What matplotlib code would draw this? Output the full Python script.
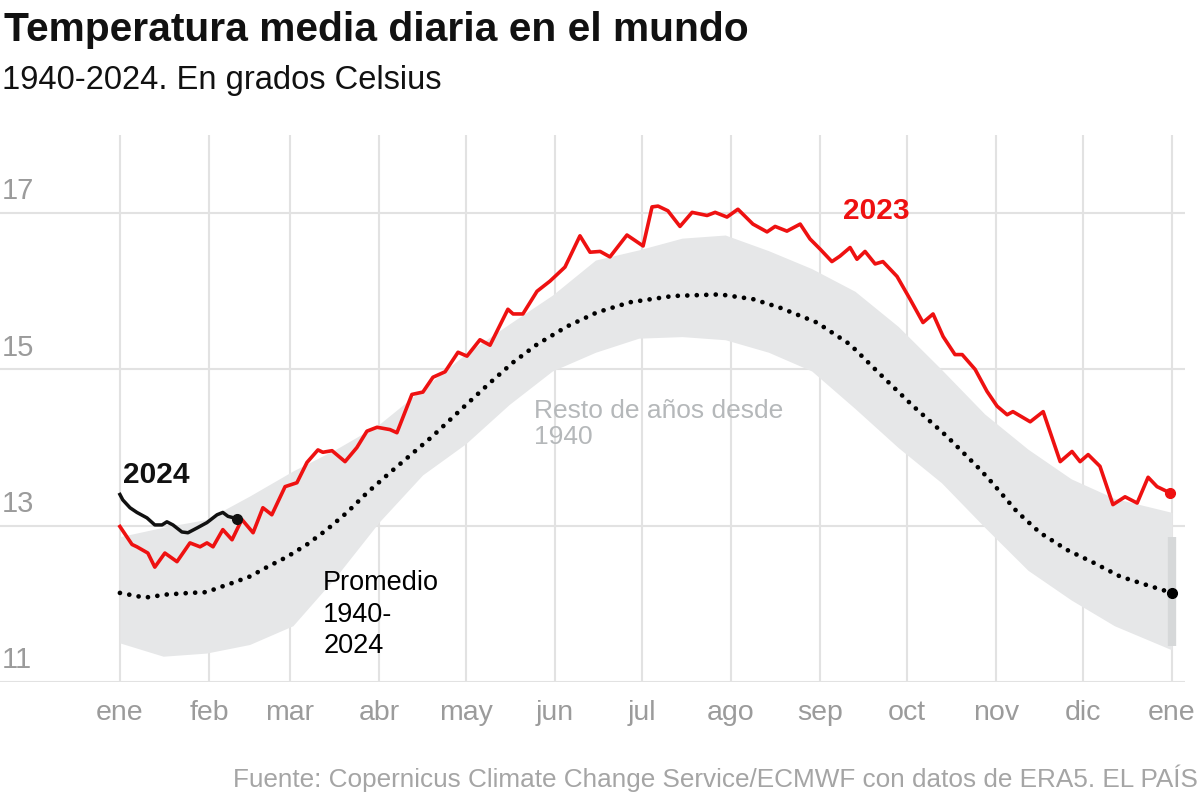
import matplotlib
matplotlib.use("Agg")
from matplotlib import pyplot as plt
from matplotlib import font_manager

# --- datos (día del año, temperatura en ºC) ---
days_2023 = [0, 4.2, 5.9, 9.7, 12.1, 15.6, 19.8, 24.3, 27.8, 30.2, 32.3, 35.7,
             38.9, 42.3, 46.2, 49.6, 52.7, 57.3, 61.4, 64.9, 68.7, 70.4, 73.6,
             78.1, 82.2, 85.7, 89.2, 93.7, 96.1, 101.3, 105.1, 108.6, 112.8,
             117.3, 120.4, 124.9, 128.4, 134.6, 136.4, 139.8, 144.7, 149.2,
             154.4, 159.6, 163.1, 166.6, 170.0, 175.9, 181.5, 184.6, 186.7,
             190.1, 194.3, 198.5, 203.7, 206.5, 210.6, 214.4, 219.6, 224.5,
             227.3, 231.4, 236.0, 239.4, 242.9, 247.0, 249.8, 253.3, 255.7,
             258.5, 262.0, 264.7, 269.6, 274.1, 278.6, 282.1, 285.6, 289.7,
             292.2, 296.7, 300.8, 304.3, 307.8, 309.8, 315.8, 320.3, 326.2,
             330.3, 333.1, 335.9, 340.0, 344.5, 348.7, 352.9, 356.7, 359.8, 364.3]
temp_2023 = [12.99, 12.76, 12.73, 12.65, 12.47, 12.65, 12.54, 12.78, 12.73, 12.78,
             12.73, 12.95, 12.82, 13.08, 12.91, 13.23, 13.14, 13.50, 13.55, 13.81,
             13.97, 13.94, 13.96, 13.82, 14.00, 14.21, 14.26, 14.23, 14.19, 14.68,
             14.71, 14.90, 14.97, 15.22, 15.17, 15.38, 15.31, 15.77, 15.71, 15.71,
             16.00, 16.13, 16.31, 16.71, 16.50, 16.51, 16.44, 16.72, 16.58, 17.08,
             17.09, 17.03, 16.83, 17.01, 16.97, 17.01, 16.95, 17.05, 16.86, 16.76,
             16.83, 16.77, 16.86, 16.67, 16.54, 16.38, 16.45, 16.56, 16.41, 16.51,
             16.35, 16.38, 16.19, 15.90, 15.60, 15.71, 15.42, 15.19, 15.19, 15.00,
             14.72, 14.53, 14.42, 14.46, 14.33, 14.46, 13.82, 13.95, 13.82, 13.91,
             13.76, 13.27, 13.37, 13.29, 13.62, 13.50, 13.42]

days_2024 = [0, 1.0, 3.5, 5.9, 9.4, 12.1, 14.6, 16.3, 18.4, 21.5, 23.6, 26.7,
             30.2, 33.7, 35.7, 37.5, 40.6]
temp_2024 = [13.40, 13.33, 13.23, 13.17, 13.10, 13.01, 13.01, 13.05, 13.01, 12.92,
             12.91, 12.97, 13.04, 13.14, 13.17, 13.12, 13.09]

days_avg = [0, 8.7, 16.3, 24.3, 30.2, 33.7, 39.2, 45.1, 51.0, 57.9, 64.9, 71.8,
            78.8, 85.7, 93.7, 108.3, 119.0, 128.4, 136.4, 144.7, 155.1, 165.5,
            177.0, 191.9, 208.2, 219.6, 229.0, 241.8, 253.3, 263.7, 275.2, 287.0,
            298.4, 302.6, 311.2, 319.2, 328.6, 337.6, 347.0, 356.3, 365]
temp_avg = [12.14, 12.08, 12.12, 12.14, 12.15, 12.20, 12.27, 12.35, 12.47, 12.60,
            12.76, 12.95, 13.17, 13.42, 13.68, 14.14, 14.51, 14.83, 15.09, 15.32,
            15.55, 15.73, 15.86, 15.94, 15.96, 15.90, 15.79, 15.60, 15.32, 14.94,
            14.53, 14.14, 13.72, 13.55, 13.18, 12.91, 12.69, 12.53, 12.35, 12.24,
            12.14]

# envolvente del resto de años (1940-2022)
days_band = [0, 15, 30, 45, 60, 75, 90, 105, 120, 135, 150, 165, 180, 195, 210,
             225, 240, 255, 270, 285, 300, 315, 330, 345, 365]
band_high = [12.86, 12.98, 13.08, 13.38, 13.70, 13.98, 14.30, 14.75, 15.20, 15.58,
             15.95, 16.40, 16.53, 16.68, 16.72, 16.52, 16.29, 16.00, 15.55, 15.00,
             14.43, 13.98, 13.60, 13.35, 13.17]
band_low = [11.50, 11.33, 11.37, 11.48, 11.72, 12.35, 13.05, 13.65, 14.05, 14.55,
            14.98, 15.22, 15.40, 15.42, 15.38, 15.22, 14.98, 14.50, 14.00, 13.55,
            12.98, 12.43, 12.05, 11.72, 11.41]

month_starts = [0, 31, 59, 90, 120, 151, 181, 212, 243, 273, 304, 334, 365]
month_labels = ["ene", "feb", "mar", "abr", "may", "jun", "jul", "ago", "sep",
                "oct", "nov", "dic", "ene"]
y_ticks = [11, 13, 15, 17]

installed = {f.name for f in font_manager.fontManager.ttflist}
narrow = "Liberation Sans Narrow" if "Liberation Sans Narrow" in installed else "Liberation Sans"
fam = [narrow, "DejaVu Sans"]

RED = "#ee1111"
GRID = "#e2e2e2"
GRAY_TXT = "#9b9b9b"

fig = plt.figure(figsize=(12, 8), dpi=100)
ax = fig.add_axes([0, 0.1475, 0.9875, 0.68375])
ax.set_xlim(-41.6, 369.5)
ax.set_ylim(11, 18)
ax.axis("off")

# rejilla
for v in y_ticks:
    ax.axhline(v, color=GRID, lw=1.5, zorder=0)
    ax.text(-41.0, v + 0.1, str(v), fontsize=21, color=GRAY_TXT, family=fam,
            ha="left", va="bottom")
for d in month_starts:
    ax.axvline(d, color=GRID, lw=1.5, zorder=0)

# resto de años
ax.fill_between(days_band, band_low, band_high, color="#e6e7e8", lw=0, zorder=1)
ax.vlines(365, band_low[-1] + 0.05, 12.85, color="#d6d8d9", lw=6, zorder=2)

# promedio
ax.plot(days_avg, temp_avg, color="black", lw=3.4, ls=(0, (0.01, 2.0)),
        dash_capstyle="round", zorder=3)
ax.plot(days_avg[-1], temp_avg[-1], "o", color="black", ms=7, zorder=4)

# 2023 y 2024
ax.plot(days_2023, temp_2023, color=RED, lw=2.6, solid_joinstyle="round", zorder=5)
ax.plot(days_2023[-1], temp_2023[-1], "o", color=RED, ms=7, zorder=6)
ax.plot(days_2024, temp_2024, color="#111111", lw=2.5, solid_joinstyle="round", zorder=5)
ax.plot(days_2024[-1], temp_2024[-1], "o", color="#111111", ms=7, zorder=6)

# etiquetas de meses
for d, lab in zip(month_starts, month_labels):
    ax.text(d, 10.6, lab, fontsize=20.5, color=GRAY_TXT, family=fam,
            ha="center", va="center")

# anotaciones
ax.text(1, 13.47, "2024", fontsize=21.5, fontweight="bold", color="#111111",
        family=fam, ha="left", va="bottom")
ax.text(251, 16.85, "2023", fontsize=21.5, fontweight="bold", color=RED,
        family=fam, ha="left", va="bottom")
ax.text(70.5, 12.43, "Promedio\n1940-\n2024", fontsize=19.5, color="black",
        family=fam, ha="left", va="top", linespacing=1.27)
ax.text(143.5, 14.62, "Resto de años desde\n1940", fontsize=19, color="#b5b8ba",
        family=fam, ha="left", va="top", linespacing=1.12)

fig.text(0.003, 0.962, "Temperatura media diaria en el mundo", fontsize=29.3,
         fontweight="bold", color="#111111", family=fam, ha="left", va="center")
fig.text(0.002, 0.899, "1940-2024. En grados Celsius", fontsize=23.5,
         color="#111111", family=fam, ha="left", va="center")
fig.text(0.998, 0.027, "Fuente: Copernicus Climate Change Service/ECMWF con datos de ERA5. EL PAÍS",
         fontsize=18.8, color="#a5a5a5", family=fam, ha="right", va="center")

fig.savefig("out.png", dpi=100, facecolor="white")
